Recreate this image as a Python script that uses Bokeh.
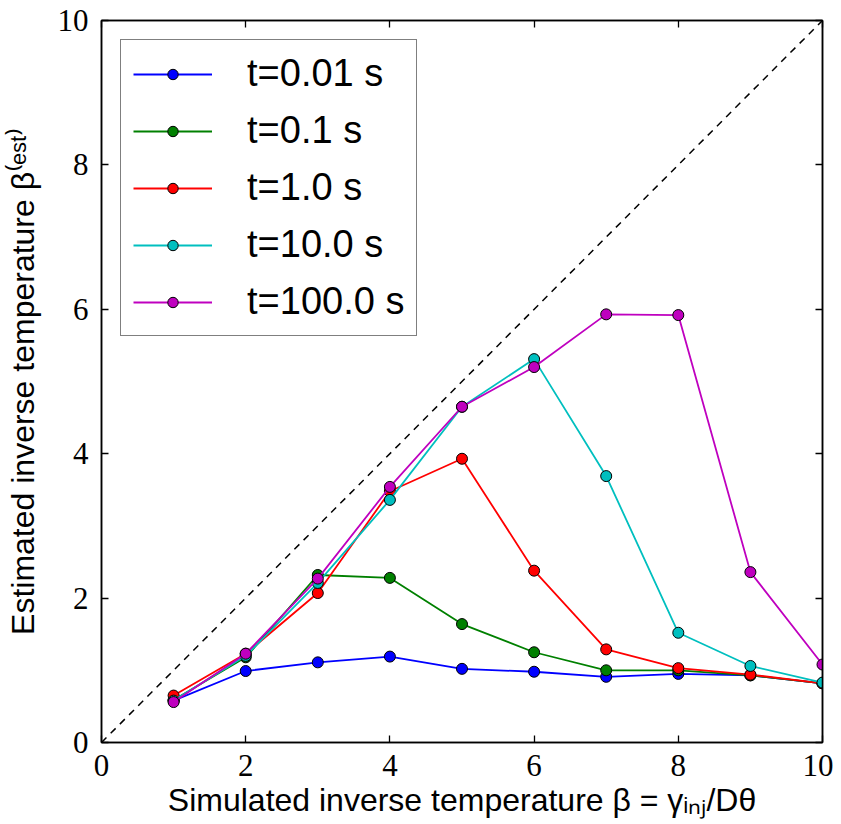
from bokeh.plotting import figure
from bokeh.models import LinearAxis, FixedTicker, Slope, Range1d
from bokeh.embed import file_html
from bokeh.resources import INLINE

# ---- data ----
beta_sim = [1, 2, 3, 4, 5, 6, 7, 8, 9, 10]
est_t001 = [0.58, 0.99, 1.11, 1.19, 1.02, 0.98, 0.91, 0.95, 0.93, 0.82]
est_t01 = [0.59, 1.18, 2.32, 2.28, 1.64, 1.25, 1.00, 1.00, 0.93, 0.82]
est_t1 = [0.65, 1.23, 2.07, 3.48, 3.93, 2.38, 1.29, 1.03, 0.94, 0.82]
est_t10 = [0.58, 1.20, 2.21, 3.36, 4.65, 5.31, 3.69, 1.52, 1.06, 0.83]
est_t100 = [0.56, 1.23, 2.27, 3.54, 4.65, 5.20, 5.93, 5.92, 2.36, 1.08]
series_labels = ["t=0.01 s", "t=0.1 s", "t=1.0 s", "t=10.0 s", "t=100.0 s"]
series_colors = ["#0000ff", "#008000", "#ff0000", "#00bfbf", "#bf00bf"]
ticks = [0, 2, 4, 6, 8, 10]

p = figure(width=833, height=822,
           x_range=Range1d(0, 10), y_range=Range1d(0, 10),
           output_backend="svg", toolbar_location=None,
           min_border_left=101, min_border_right=11,
           min_border_top=20, min_border_bottom=80)

p.grid.visible = False
p.outline_line_color = "black"
p.outline_line_width = 1.5
p.background_fill_color = "white"
p.border_fill_color = "white"

# reference diagonal
p.add_layout(Slope(gradient=1, y_intercept=0, line_color="black",
                   line_width=1.5, line_dash="7 6"))

all_series = [est_t001, est_t01, est_t1, est_t10, est_t100]
for ys, lab, col in zip(all_series, series_labels, series_colors):
    p.line(beta_sim, ys, line_color=col, line_width=1.8, legend_label=lab)
    p.scatter(beta_sim, ys, size=11, fill_color=col, line_color="black",
              line_width=1, legend_label=lab)

def style_axis(ax, show_labels):
    ax.ticker = FixedTicker(ticks=ticks)
    ax.major_tick_in = 7
    ax.major_tick_out = 0
    ax.minor_tick_line_color = None
    ax.major_tick_line_color = "black"
    ax.major_tick_line_width = 1.3
    ax.axis_line_color = "black"
    ax.axis_line_width = 1.5
    if show_labels:
        ax.major_label_text_font = "Liberation Serif"
        ax.major_label_text_font_size = "31px"
        ax.major_label_text_color = "black"
    else:
        ax.major_label_text_font_size = "0px"
        ax.major_label_text_color = None
        ax.major_label_standoff = 0

style_axis(p.xaxis[0], True)
style_axis(p.yaxis[0], True)
p.xaxis[0].major_label_standoff = 12
p.yaxis[0].major_label_standoff = 13

p.xaxis[0].axis_label = "Simulated inverse temperature \u03b2 = \u03b3\u1d62\u2099\u2c7c/D\u03b8"
p.yaxis[0].axis_label = "Estimated inverse temperature \u03b2\u207d\u1d49\u02e2\u1d57\u207e"
for ax in (p.xaxis[0], p.yaxis[0]):
    ax.axis_label_text_font = "Liberation Sans"
    ax.axis_label_text_font_size = "32px"
    ax.axis_label_text_font_style = "normal"
    ax.axis_label_text_color = "black"
p.xaxis[0].axis_label_standoff = 3
p.yaxis[0].axis_label_standoff = 14

top_ax = LinearAxis()
right_ax = LinearAxis()
style_axis(top_ax, False)
style_axis(right_ax, False)
p.add_layout(top_ax, "above")
p.add_layout(right_ax, "right")

leg = p.legend[0]
leg.location = "top_left"
leg.margin = 19
leg.padding = 12
leg.spacing = 14
leg.glyph_width = 79
leg.glyph_height = 26
leg.label_height = 41
leg.label_standoff = 35
leg.label_text_font = "Liberation Sans"
leg.label_text_font_size = "38px"
leg.label_text_color = "black"
leg.border_line_color = "black"
leg.border_line_width = 1.5
leg.background_fill_color = "white"
leg.background_fill_alpha = 1.0

open("out.html", "w").write(file_html(p, INLINE))
